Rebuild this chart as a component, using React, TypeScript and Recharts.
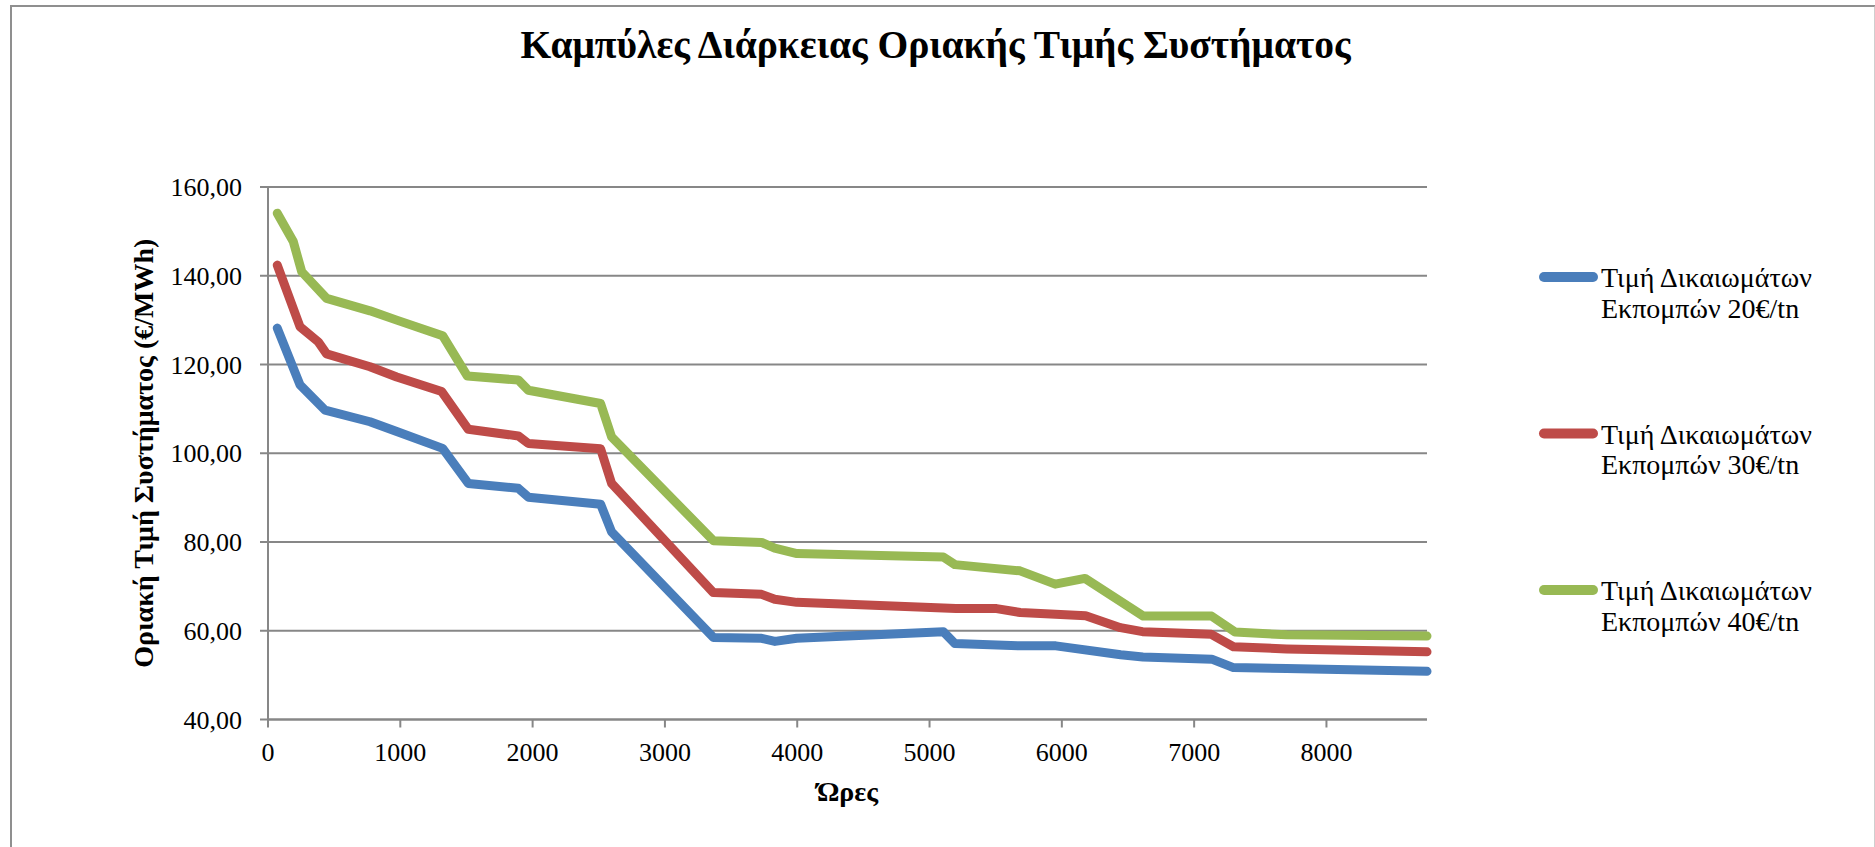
import React from 'react';
import { LineChart, Line, XAxis, YAxis, CartesianGrid, Legend } from 'recharts';

// Hours of the year (duration curve) and system marginal price in €/MWh
const hours20 = [70, 242, 431, 771, 973, 1320, 1514, 1892, 1968, 2514, 2597, 3366, 3731, 3832, 3996, 5104, 5192, 5684, 5955, 6445, 6613, 7133, 7297, 7700, 8760];
const price20 = [128.2, 115.4, 109.7, 107.1, 104.9, 101.1, 93.2, 92.1, 90.1, 88.5, 82.3, 58.5, 58.3, 57.6, 58.3, 59.8, 57.1, 56.6, 56.6, 54.6, 54.1, 53.6, 51.7, 51.5, 50.85];

const hours30 = [70, 242, 380, 443, 771, 973, 1313, 1514, 1892, 1968, 2514, 2597, 3366, 3731, 3830, 3996, 5200, 5507, 5686, 6180, 6443, 6610, 7130, 7297, 7698, 8760];
const price30 = [142.4, 128.5, 125.1, 122.4, 119.5, 117.2, 113.9, 105.4, 103.9, 102.2, 101.0, 93.2, 68.6, 68.2, 67.1, 66.4, 65.0, 65.0, 64.1, 63.4, 60.7, 59.8, 59.2, 56.4, 55.9, 55.25];

const hours40 = [70, 191, 255, 443, 771, 973, 1320, 1507, 1892, 1968, 2514, 2597, 3366, 3731, 3830, 3998, 5104, 5192, 5684, 5950, 6175, 6616, 7132, 7309, 7700, 8760];
const price40 = [154.1, 147.7, 140.9, 134.9, 132.1, 130.0, 126.5, 117.4, 116.5, 114.2, 111.2, 103.7, 80.3, 79.9, 78.6, 77.4, 76.6, 74.9, 73.5, 70.5, 71.8, 63.3, 63.3, 59.7, 59.1, 58.8];

const xTicks = [0, 1000, 2000, 3000, 4000, 5000, 6000, 7000, 8000];
const yTicks = [40, 60, 80, 100, 120, 140, 160];

const seriesNames = [
    'Τιμή Δικαιωμάτων Εκπομπών 20€/tn',
    'Τιμή Δικαιωμάτων Εκπομπών 30€/tn',
    'Τιμή Δικαιωμάτων Εκπομπών 40€/tn',
];
const legendLine1 = ['Τιμή Δικαιωμάτων', 'Τιμή Δικαιωμάτων', 'Τιμή Δικαιωμάτων'];
const legendLine2 = ['Εκπομπών 20€/tn', 'Εκπομπών 30€/tn', 'Εκπομπών 40€/tn'];
const colors = ['#4A7EBB', '#BE4B48', '#98B954'];

const title = 'Καμπύλες Διάρκειας Οριακής Τιμής Συστήματος';
const xTitle = 'Ώρες';
const yTitle = 'Οριακή Τιμή Συστήματος (€/MWh)';

const FONT = '"Liberation Serif", "DejaVu Serif", serif';
const GRID = '#878787';

const toPoints = (hours: number[], prices: number[]) => hours.map((h, i) => ({ h, v: prices[i] }));
const series = [toPoints(hours20, price20), toPoints(hours30, price30), toPoints(hours40, price40)];

const fmt = (v: number) => v.toFixed(2).replace('.', ',');

const renderLegend = () => (
    <svg width={340} height={400} style={{ overflow: 'visible' }}>
        {seriesNames.map((name, i) => {
            const y = 27 + i * 156.5;
            return (
                <g key={name}>
                    <line x1={9} x2={58} y1={y} y2={y} stroke={colors[i]} strokeWidth={10} strokeLinecap="round" />
                    <text x={66} y={y + 10} fontFamily={FONT} fontSize={28} fill="#000">{legendLine1[i]}</text>
                    <text x={66} y={y + 40.5} fontFamily={FONT} fontSize={28} fill="#000">{legendLine2[i]}</text>
                </g>
            );
        })}
    </svg>
);

export default function App() {
    return (
        <div style={{ position: 'absolute', left: 0, top: 0, width: 1875, height: 847, overflow: 'hidden', background: '#fff' }}>
            {/* chart frame */}
            <div style={{
                position: 'absolute', left: 10, top: 5, width: 1862, height: 842,
                borderLeft: '2px solid #8f8f8f', borderTop: '2px solid #8f8f8f', borderRight: '2px solid #cfcfcf',
            }} />
            <svg width={1875} height={120} style={{ position: 'absolute', left: 0, top: 0 }}>
                <text x={935.5} y={58} textAnchor="middle" fontFamily={FONT} fontWeight="bold" fontSize={39.5} fill="#000">
                    {title}
                </text>
            </svg>
            <div style={{ position: 'absolute', left: 0, top: 0 }}>
                <LineChart width={1875} height={847} margin={{ top: 187, right: 448, left: 188, bottom: 67.5 }}>
                    <CartesianGrid vertical={false} stroke={GRID} strokeWidth={2} />
                    <XAxis
                        type="number"
                        dataKey="h"
                        domain={[0, 8760]}
                        ticks={xTicks}
                        interval={0}
                        height={60}
                        tickSize={8}
                        tickMargin={15}
                        axisLine={{ stroke: GRID, strokeWidth: 2 }}
                        tickLine={{ stroke: GRID, strokeWidth: 2 }}
                        tick={{ fontFamily: FONT, fontSize: 26, fill: '#000' }}
                        label={{
                            content: ({ viewBox }: any) => (
                                <text x={viewBox.x + viewBox.width / 2} y={801} textAnchor="middle" fontFamily={FONT} fontWeight="bold" fontSize={28} fill="#000">
                                    {xTitle}
                                </text>
                            ),
                        }}
                    />
                    <YAxis
                        type="number"
                        domain={[40, 160]}
                        ticks={yTicks}
                        interval={0}
                        width={80}
                        tickSize={8}
                        tickMargin={18}
                        tickFormatter={fmt}
                        axisLine={{ stroke: GRID, strokeWidth: 2 }}
                        tickLine={{ stroke: GRID, strokeWidth: 2 }}
                        tick={{ fontFamily: FONT, fontSize: 26, fill: '#000' }}
                        label={{
                            content: ({ viewBox }: any) => {
                                const cx = 153;
                                const cy = viewBox.y + viewBox.height / 2;
                                return (
                                    <text x={cx} y={cy} transform={`rotate(-90, ${cx}, ${cy})`} textAnchor="middle" fontFamily={FONT} fontWeight="bold" fontSize={28} fill="#000">
                                        {yTitle}
                                    </text>
                                );
                            },
                        }}
                    />
                    <Legend
                        layout="horizontal"
                        align="center"
                        verticalAlign="middle"
                        content={renderLegend}
                        wrapperStyle={{ left: 1535, top: 250, width: 340, height: 400 }}
                    />
                    {series.map((pts, i) => (
                        <Line
                            key={seriesNames[i]}
                            data={pts}
                            dataKey="v"
                            name={seriesNames[i]}
                            type="linear"
                            stroke={colors[i]}
                            strokeWidth={9}
                            strokeLinecap="round"
                            strokeLinejoin="round"
                            dot={false}
                            activeDot={false}
                            isAnimationActive={false}
                        />
                    ))}
                </LineChart>
            </div>
        </div>
    );
}
